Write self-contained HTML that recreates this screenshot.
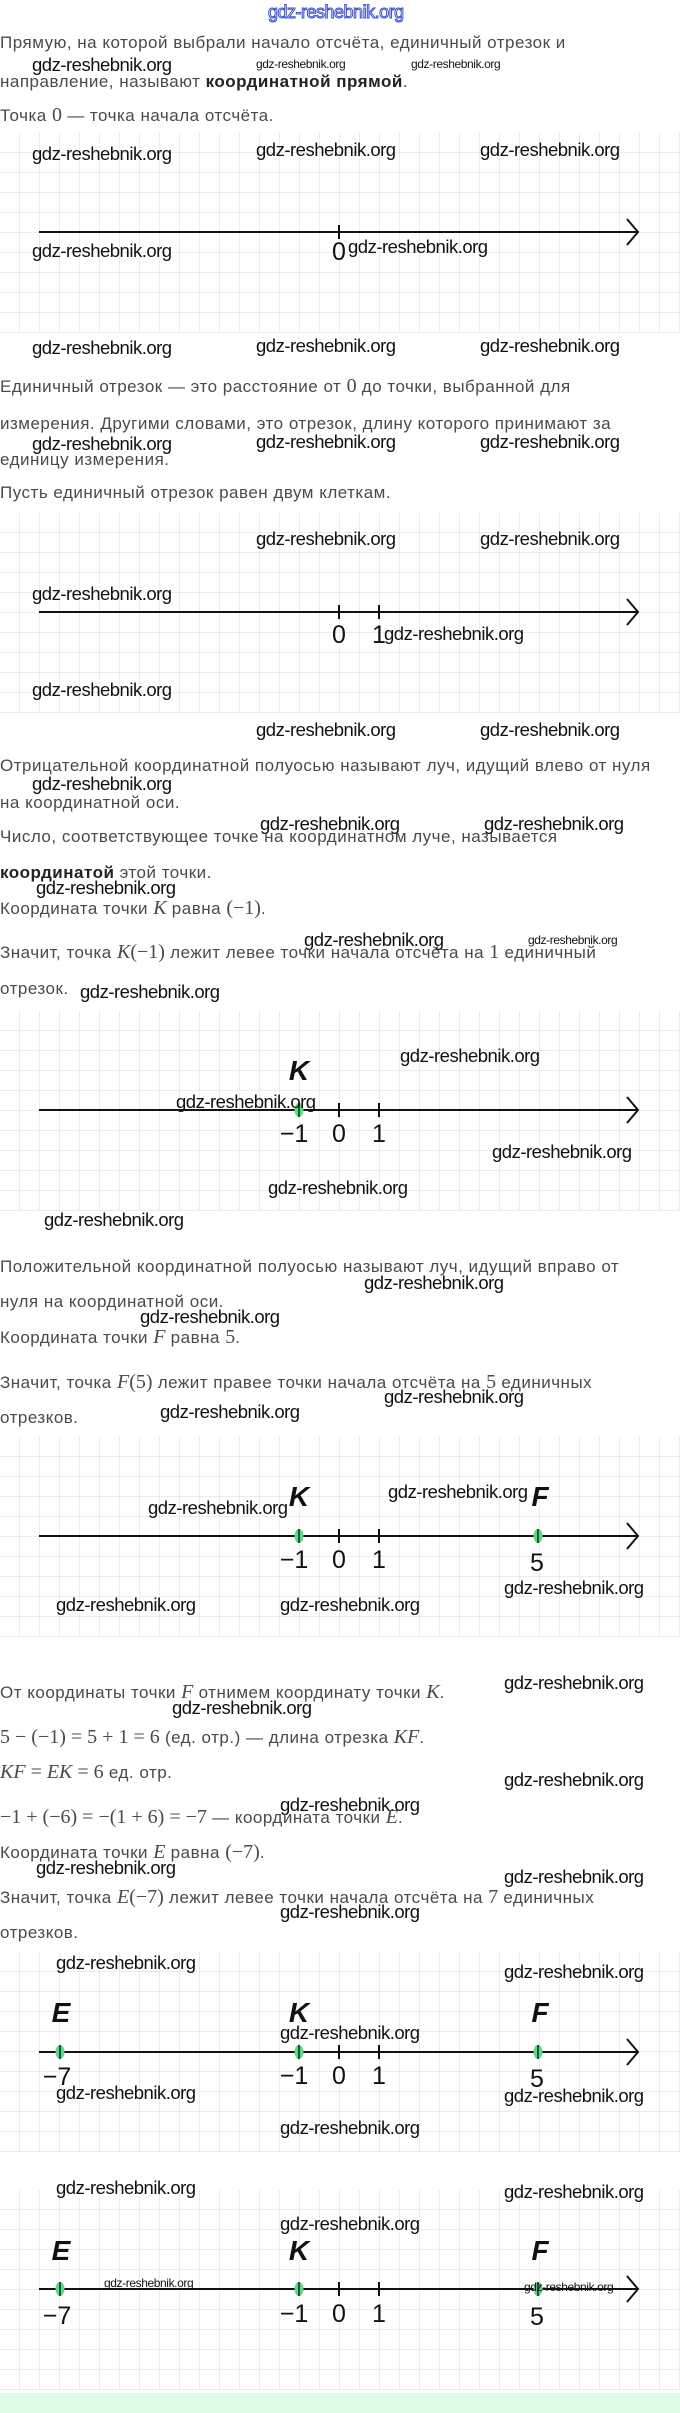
<!DOCTYPE html>
<html><head><meta charset="utf-8"><style>
*{margin:0;padding:0}
body{width:680px;height:2413px;position:relative;background:#fff;overflow:hidden;font-family:"Liberation Sans",sans-serif}
.t{position:absolute;left:0;font-size:17px;line-height:20px;color:#4a4a4a;white-space:nowrap;letter-spacing:0.5px}
.m{font-family:"Liberation Serif",serif;font-size:20px;letter-spacing:0}
.i{font-style:italic}
.w{position:absolute;font-size:18.5px;line-height:20px;color:#111;white-space:nowrap;letter-spacing:-0.5px}
.ws{position:absolute;font-size:12px;line-height:14px;color:#111;white-space:nowrap;letter-spacing:-0.4px}
.g{position:absolute;left:0;width:680px;height:200px;
background-image:linear-gradient(to right,#ececec 1px,transparent 1px),linear-gradient(to bottom,#ececec 1px,transparent 1px);
background-size:20px 20px;background-position:19px 19px}
svg{position:absolute;left:0;width:680px;height:200px;overflow:visible}
.n{font-family:"Liberation Sans",sans-serif;font-size:25px;fill:#111}
.L{font-family:"Liberation Sans",sans-serif;font-size:28px;font-style:italic;font-weight:bold;fill:#111}
</style></head><body>

<div style="position:absolute;left:268px;top:2px;font-size:18px;color:#fff;-webkit-text-stroke:1px #3a4fd0;letter-spacing:-0.5px">gdz-reshebnik.org</div>

<div class="t" style="top:33px">Прямую, на которой выбрали начало отсчёта, единичный отрезок и</div>
<div class="w" style="left:32px;top:55px">gdz-reshebnik.org</div>
<div class="ws" style="left:256px;top:57px">gdz-reshebnik.org</div>
<div class="ws" style="left:411px;top:57px">gdz-reshebnik.org</div>
<div class="t" style="top:72px">направление, называют <b style="color:#222">координатной прямой</b>.</div>
<div class="t" style="top:105px">Точка <span class="m">0</span> — точка начала отсчёта.</div>

<!-- grid 1 -->
<div class="g" style="top:133px"></div>
<svg style="top:133px" viewBox="0 0 680 200">
<line x1="39" y1="99" x2="637" y2="99" stroke="#111" stroke-width="2"/>
<polyline points="627,86 638,99 627,112" fill="none" stroke="#111" stroke-width="2"/>
<line x1="339" y1="92" x2="339" y2="106" stroke="#111" stroke-width="2"/>
<text class="n" x="339" y="127" text-anchor="middle">0</text>
</svg>
<div class="w" style="left:32px;top:144px">gdz-reshebnik.org</div>
<div class="w" style="left:256px;top:140px">gdz-reshebnik.org</div>
<div class="w" style="left:480px;top:140px">gdz-reshebnik.org</div>
<div class="w" style="left:32px;top:241px">gdz-reshebnik.org</div>
<div class="w" style="left:348px;top:237px">gdz-reshebnik.org</div>
<div class="w" style="left:32px;top:338px">gdz-reshebnik.org</div>
<div class="w" style="left:256px;top:336px">gdz-reshebnik.org</div>
<div class="w" style="left:480px;top:336px">gdz-reshebnik.org</div>

<div class="t" style="top:376px">Единичный отрезок — это расстояние от <span class="m">0</span> до точки, выбранной для</div>
<div class="t" style="top:414px">измерения. Другими словами, это отрезок, длину которого принимают за</div>
<div class="w" style="left:32px;top:434px">gdz-reshebnik.org</div>
<div class="w" style="left:256px;top:432px">gdz-reshebnik.org</div>
<div class="w" style="left:480px;top:432px">gdz-reshebnik.org</div>
<div class="t" style="top:450px">единицу измерения.</div>
<div class="t" style="top:483px">Пусть единичный отрезок равен двум клеткам.</div>

<!-- grid 2 -->
<div class="g" style="top:513px"></div>
<svg style="top:513px" viewBox="0 0 680 200">
<line x1="39" y1="99" x2="637" y2="99" stroke="#111" stroke-width="2"/>
<polyline points="627,86 638,99 627,112" fill="none" stroke="#111" stroke-width="2"/>
<line x1="339" y1="92" x2="339" y2="106" stroke="#111" stroke-width="2"/>
<line x1="379" y1="92" x2="379" y2="106" stroke="#111" stroke-width="2"/>
<text class="n" x="339" y="130" text-anchor="middle">0</text>
<text class="n" x="379" y="130" text-anchor="middle">1</text>
</svg>
<div class="w" style="left:256px;top:529px">gdz-reshebnik.org</div>
<div class="w" style="left:480px;top:529px">gdz-reshebnik.org</div>
<div class="w" style="left:32px;top:584px">gdz-reshebnik.org</div>
<div class="w" style="left:384px;top:624px">gdz-reshebnik.org</div>
<div class="w" style="left:32px;top:680px">gdz-reshebnik.org</div>
<div class="w" style="left:256px;top:720px">gdz-reshebnik.org</div>
<div class="w" style="left:480px;top:720px">gdz-reshebnik.org</div>

<div class="t" style="top:756px">Отрицательной координатной полуосью называют луч, идущий влево от нуля</div>
<div class="w" style="left:32px;top:774px">gdz-reshebnik.org</div>
<div class="t" style="top:793px">на координатной оси.</div>
<div class="w" style="left:260px;top:814px">gdz-reshebnik.org</div>
<div class="w" style="left:484px;top:814px">gdz-reshebnik.org</div>
<div class="t" style="top:827px">Число, соответствующее точке на координатном луче, называется</div>
<div class="t" style="top:863px"><b style="color:#222">координатой</b> этой точки.</div>
<div class="w" style="left:36px;top:878px">gdz-reshebnik.org</div>
<div class="t" style="top:898px">Координата точки <span class="m i">K</span> равна <span class="m">(−1)</span>.</div>
<div class="w" style="left:304px;top:930px">gdz-reshebnik.org</div>
<div class="ws" style="left:528px;top:933px">gdz-reshebnik.org</div>
<div class="t" style="top:942px">Значит, точка <span class="m"><i>K</i>(−1)</span> лежит левее точки начала отсчёта на <span class="m">1</span> единичный</div>
<div class="t" style="top:979px">отрезок.</div>
<div class="w" style="left:80px;top:982px">gdz-reshebnik.org</div>

<!-- grid 3 -->
<div class="g" style="top:1011px"></div>
<svg style="top:1011px" viewBox="0 0 680 200">
<line x1="39" y1="99" x2="637" y2="99" stroke="#111" stroke-width="2"/>
<polyline points="627,86 638,99 627,112" fill="none" stroke="#111" stroke-width="2"/>
<line x1="339" y1="92" x2="339" y2="106" stroke="#111" stroke-width="2"/>
<line x1="379" y1="92" x2="379" y2="106" stroke="#111" stroke-width="2"/>
<ellipse cx="299" cy="99" rx="4.5" ry="7" fill="#5fd68a"/>
<line x1="299" y1="92" x2="299" y2="106" stroke="#1a5a30" stroke-width="2"/>
<text class="n" x="294" y="131" text-anchor="middle">−1</text>
<text class="n" x="339" y="131" text-anchor="middle">0</text>
<text class="n" x="379" y="131" text-anchor="middle">1</text>
<text class="L" x="299" y="69" text-anchor="middle">K</text>
</svg>
<div class="w" style="left:400px;top:1046px">gdz-reshebnik.org</div>
<div class="w" style="left:176px;top:1092px">gdz-reshebnik.org</div>
<div class="w" style="left:492px;top:1142px">gdz-reshebnik.org</div>
<div class="w" style="left:268px;top:1178px">gdz-reshebnik.org</div>
<div class="w" style="left:44px;top:1210px">gdz-reshebnik.org</div>

<div class="t" style="top:1257px">Положительной координатной полуосью называют луч, идущий вправо от</div>
<div class="w" style="left:364px;top:1273px">gdz-reshebnik.org</div>
<div class="t" style="top:1292px">нуля на координатной оси.</div>
<div class="w" style="left:140px;top:1307px">gdz-reshebnik.org</div>
<div class="t" style="top:1327px">Координата точки <span class="m i">F</span> равна <span class="m">5</span>.</div>
<div class="t" style="top:1372px">Значит, точка <span class="m"><i>F</i>(5)</span> лежит правее точки начала отсчёта на <span class="m">5</span> единичных</div>
<div class="w" style="left:384px;top:1387px">gdz-reshebnik.org</div>
<div class="w" style="left:160px;top:1402px">gdz-reshebnik.org</div>
<div class="t" style="top:1408px">отрезков.</div>

<!-- grid 4 -->
<div class="g" style="top:1437px"></div>
<svg style="top:1437px" viewBox="0 0 680 200">
<line x1="39" y1="99" x2="637" y2="99" stroke="#111" stroke-width="2"/>
<polyline points="627,86 638,99 627,112" fill="none" stroke="#111" stroke-width="2"/>
<line x1="339" y1="92" x2="339" y2="106" stroke="#111" stroke-width="2"/>
<line x1="379" y1="92" x2="379" y2="106" stroke="#111" stroke-width="2"/>
<ellipse cx="299" cy="99" rx="4.5" ry="7" fill="#5fd68a"/>
<line x1="299" y1="92" x2="299" y2="106" stroke="#1a5a30" stroke-width="2"/>
<ellipse cx="538" cy="99" rx="4.5" ry="7" fill="#5fd68a"/>
<line x1="538" y1="92" x2="538" y2="106" stroke="#1a5a30" stroke-width="2"/>
<text class="n" x="294" y="131" text-anchor="middle">−1</text>
<text class="n" x="339" y="131" text-anchor="middle">0</text>
<text class="n" x="379" y="131" text-anchor="middle">1</text>
<text class="n" x="537" y="134" text-anchor="middle">5</text>
<text class="L" x="299" y="69" text-anchor="middle">K</text>
<text class="L" x="540" y="69" text-anchor="middle">F</text>
</svg>
<div class="w" style="left:388px;top:1482px">gdz-reshebnik.org</div>
<div class="w" style="left:148px;top:1498px">gdz-reshebnik.org</div>
<div class="w" style="left:504px;top:1578px">gdz-reshebnik.org</div>
<div class="w" style="left:56px;top:1595px">gdz-reshebnik.org</div>
<div class="w" style="left:280px;top:1595px">gdz-reshebnik.org</div>

<div class="t" style="top:1682px">От координаты точки <span class="m i">F</span> отнимем координату точки <span class="m i">K</span>.</div>
<div class="w" style="left:504px;top:1673px">gdz-reshebnik.org</div>
<div class="w" style="left:172px;top:1698px">gdz-reshebnik.org</div>
<div class="t" style="top:1727px"><span class="m">5 − (−1) = 5 + 1 = 6</span> (ед. отр.) — длина отрезка <span class="m i">KF</span>.</div>
<div class="t" style="top:1762px"><span class="m"><i>KF</i> = <i>EK</i> = 6</span> ед. отр.</div>
<div class="w" style="left:504px;top:1770px">gdz-reshebnik.org</div>
<div class="w" style="left:280px;top:1795px">gdz-reshebnik.org</div>
<div class="t" style="top:1807px"><span class="m">−1 + (−6) = −(1 + 6) = −7</span> — координата точки <span class="m i">E</span>.</div>
<div class="t" style="top:1842px">Координата точки <span class="m i">E</span> равна <span class="m">(−7)</span>.</div>
<div class="w" style="left:36px;top:1858px">gdz-reshebnik.org</div>
<div class="w" style="left:504px;top:1867px">gdz-reshebnik.org</div>
<div class="t" style="top:1887px">Значит, точка <span class="m"><i>E</i>(−7)</span> лежит левее точки начала отсчёта на <span class="m">7</span> единичных</div>
<div class="w" style="left:280px;top:1902px">gdz-reshebnik.org</div>
<div class="t" style="top:1923px">отрезков.</div>

<!-- grid 5 -->
<div class="g" style="top:1952px"></div>
<svg style="top:1952px" viewBox="0 0 680 200">
<line x1="39" y1="100" x2="637" y2="100" stroke="#111" stroke-width="2"/>
<polyline points="627,87 638,100 627,113" fill="none" stroke="#111" stroke-width="2"/>
<line x1="339" y1="93" x2="339" y2="107" stroke="#111" stroke-width="2"/>
<line x1="379" y1="93" x2="379" y2="107" stroke="#111" stroke-width="2"/>
<ellipse cx="60" cy="100" rx="4.5" ry="7" fill="#5fd68a"/>
<line x1="60" y1="93" x2="60" y2="107" stroke="#1a5a30" stroke-width="2"/>
<ellipse cx="299" cy="100" rx="4.5" ry="7" fill="#5fd68a"/>
<line x1="299" y1="93" x2="299" y2="107" stroke="#1a5a30" stroke-width="2"/>
<ellipse cx="538" cy="100" rx="4.5" ry="7" fill="#5fd68a"/>
<line x1="538" y1="93" x2="538" y2="107" stroke="#1a5a30" stroke-width="2"/>
<text class="n" x="57" y="133" text-anchor="middle">−7</text>
<text class="n" x="294" y="132" text-anchor="middle">−1</text>
<text class="n" x="339" y="132" text-anchor="middle">0</text>
<text class="n" x="379" y="132" text-anchor="middle">1</text>
<text class="n" x="537" y="135" text-anchor="middle">5</text>
<text class="L" x="61" y="70" text-anchor="middle">E</text>
<text class="L" x="299" y="70" text-anchor="middle">K</text>
<text class="L" x="540" y="70" text-anchor="middle">F</text>
</svg>
<div class="w" style="left:56px;top:1953px">gdz-reshebnik.org</div>
<div class="w" style="left:504px;top:1962px">gdz-reshebnik.org</div>
<div class="w" style="left:280px;top:2023px">gdz-reshebnik.org</div>
<div class="w" style="left:56px;top:2083px">gdz-reshebnik.org</div>
<div class="w" style="left:504px;top:2086px">gdz-reshebnik.org</div>
<div class="w" style="left:280px;top:2118px">gdz-reshebnik.org</div>

<!-- grid 6 -->
<div class="g" style="top:2190px"></div>
<svg style="top:2190px" viewBox="0 0 680 200">
<line x1="39" y1="99" x2="637" y2="99" stroke="#111" stroke-width="2"/>
<polyline points="627,86 638,99 627,112" fill="none" stroke="#111" stroke-width="2"/>
<line x1="339" y1="92" x2="339" y2="106" stroke="#111" stroke-width="2"/>
<line x1="379" y1="92" x2="379" y2="106" stroke="#111" stroke-width="2"/>
<ellipse cx="60" cy="99" rx="4.5" ry="7" fill="#5fd68a"/>
<line x1="60" y1="92" x2="60" y2="106" stroke="#1a5a30" stroke-width="2"/>
<ellipse cx="299" cy="99" rx="4.5" ry="7" fill="#5fd68a"/>
<line x1="299" y1="92" x2="299" y2="106" stroke="#1a5a30" stroke-width="2"/>
<ellipse cx="538" cy="99" rx="4.5" ry="7" fill="#5fd68a"/>
<line x1="538" y1="92" x2="538" y2="106" stroke="#1a5a30" stroke-width="2"/>
<text class="n" x="57" y="134" text-anchor="middle">−7</text>
<text class="n" x="294" y="132" text-anchor="middle">−1</text>
<text class="n" x="339" y="132" text-anchor="middle">0</text>
<text class="n" x="379" y="132" text-anchor="middle">1</text>
<text class="n" x="537" y="135" text-anchor="middle">5</text>
<text class="L" x="61" y="70" text-anchor="middle">E</text>
<text class="L" x="299" y="70" text-anchor="middle">K</text>
<text class="L" x="540" y="70" text-anchor="middle">F</text>
</svg>
<div class="w" style="left:56px;top:2178px">gdz-reshebnik.org</div>
<div class="w" style="left:504px;top:2182px">gdz-reshebnik.org</div>
<div class="w" style="left:280px;top:2214px">gdz-reshebnik.org</div>
<div class="ws" style="left:104px;top:2276px">gdz-reshebnik.org</div>
<div class="ws" style="left:524px;top:2280px">gdz-reshebnik.org</div>

<div style="position:absolute;left:0;top:2393px;width:680px;height:20px;background:#dcfce6"></div>
</body></html>
